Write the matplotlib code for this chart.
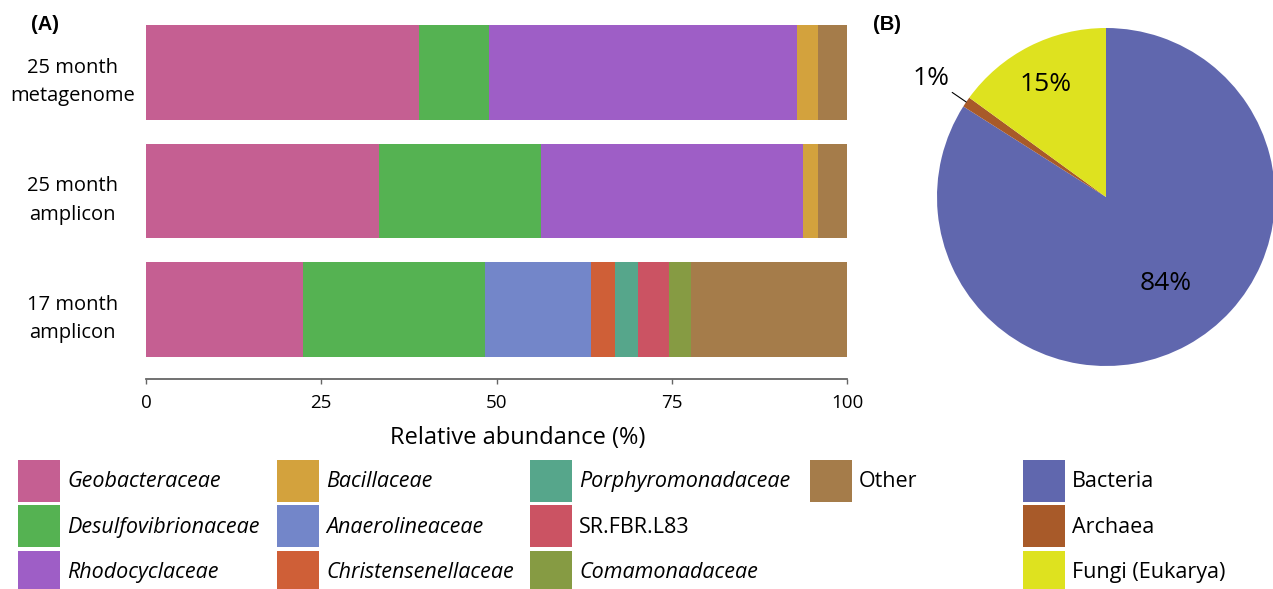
"""
Stacked family abundance bars (A) and kingdom pie (B).
"""
import numpy as np
import matplotlib
matplotlib.use('Agg')
import matplotlib.pyplot as plt
from matplotlib.transforms import ScaledTranslation

FONT = 'Open Sans'
plt.rcParams['font.family'] = [FONT, 'DejaVu Sans']

# Panel A data: relative abundance (%) of each family per sample
samples = ['25 month\nmetagenome', '25 month\namplicon', '17 month\namplicon']
families = ['Geobacteraceae', 'Desulfovibrionaceae', 'Rhodocyclaceae',
            'Bacillaceae', 'Anaerolineaceae', 'Christensenellaceae',
            'Porphyromonadaceae', 'SR.FBR.L83', 'Comamonadaceae', 'Other']
metagenome_25 = [38.9, 10.0, 44.0, 3.0, 0.0, 0.0, 0.0, 0.0, 0.0, 4.1]
amplicon_25 = [33.2, 23.1, 37.4, 2.2, 0.0, 0.0, 0.0, 0.0, 0.0, 4.1]
amplicon_17 = [22.4, 26.0, 0.0, 0.0, 15.1, 3.4, 3.3, 4.4, 3.1, 22.3]
family_colors = ['#C55F92', '#55B252', '#9E5EC6', '#D3A23D', '#7386C9',
                 '#CF5F37', '#56A68B', '#CB5363', '#869B43', '#A57C4A']
upright = ['SR.FBR.L83', 'Other']
xticks = [0, 25, 50, 75, 100]

# Panel B data: kingdom share (%)
kingdoms = ['Bacteria', 'Archaea', 'Fungi (Eukarya)']
kingdom_pct = [84, 1, 15]
kingdom_colors = ['#6067AE', '#A85A29', '#DEE21F']


fig = plt.figure(figsize=(12.73, 5.89), dpi=100)
W, H = 1273, 589


def px_axes(left, top, right, bottom):
    """Axes from pixel box."""
    return fig.add_axes([left / W, 1 - bottom / H, (right - left) / W, (bottom - top) / H])


# ---- (A) stacked bars
ax = px_axes(146, 25, 847, 379)
data = np.array([metagenome_25, amplicon_25, amplicon_17])
ypos = np.arange(len(samples))[::-1]
left = np.zeros(len(samples))
handles = []
for i, fam in enumerate(families):
    bars = ax.barh(ypos, data[:, i], left=left, height=0.8,
                   color=family_colors[i], linewidth=0, label=fam)
    handles.append(bars)
    left += data[:, i]

ax.set_xlim(0, 100)
ax.set_ylim(-0.586, 2.4)
ax.set_xticks(xticks)
ax.set_xticklabels([str(t) for t in xticks], fontsize=13.5)
ax.set_yticks(ypos)
ax.set_yticklabels(samples, fontsize=14.5, ha='center', multialignment='center',
                   linespacing=1.55)
ax.tick_params(axis='y', length=0, pad=53)
ax.tick_params(axis='x', length=3.5, width=1, color='#666666', pad=7)
shift = ScaledTranslation(0, -2 / 72, fig.dpi_scale_trans)
for lab in ax.get_yticklabels():
    lab.set_transform(lab.get_transform() + shift)
for side in ['top', 'right', 'left']:
    ax.spines[side].set_visible(False)
ax.spines['bottom'].set_color('#666666')
ax.spines['bottom'].set_linewidth(1.3)
ax.set_xlabel('Relative abundance (%)', fontsize=17, labelpad=10.5)
ax.xaxis.label.set_x(0.53)

fig.text(31 / W, 1 - 25 / H, '(A)', fontsize=14.5, fontweight='bold',
         family='Liberation Sans', va='center', ha='left')

# ---- (B) pie
pax = px_axes(937, 28, 1275, 366)
wedges, _ = pax.pie(kingdom_pct, colors=kingdom_colors, startangle=90,
                    counterclock=False, wedgeprops=dict(linewidth=0))
pax.set_xlim(-1, 1)
pax.set_ylim(-1, 1)
pax.set_aspect('equal')

label_pos = [(0.355, -0.509), (-1.036, 0.704), (-0.355, 0.663)]
for w, pct, pos in zip(wedges, kingdom_pct, label_pos):
    text = f'{pct}%'
    if pct < 5:
        mid = np.deg2rad((w.theta1 + w.theta2) / 2)
        pax.annotate(text, xy=(np.cos(mid), np.sin(mid)), xytext=pos,
                     fontsize=19, ha='center', va='center',
                     arrowprops=dict(arrowstyle='-', lw=0.8, color='black',
                                     relpos=(1, 0), shrinkA=0, shrinkB=0))
    else:
        pax.text(pos[0], pos[1], text, fontsize=19, ha='center', va='center')

fig.text(873 / W, 1 - 25 / H, '(B)', fontsize=14.5, fontweight='bold',
         family='Liberation Sans', va='center', ha='left')

# ---- legends
fs = 15.5
fs_px = fs * 100 / 72
hh = (42 / fs_px - 0.245) / 0.65
leg_kw = dict(loc='upper left', frameon=False, fontsize=fs, borderpad=0,
              borderaxespad=0, handlelength=42 / fs_px, handleheight=hh,
              handletextpad=7 / fs_px, labelspacing=3.3 / fs_px)

columns = [(18, [0, 1, 2]), (277, [3, 4, 5]), (530, [6, 7, 8]), (810, [9])]
for x0, idx in columns:
    leg = fig.legend([handles[i] for i in idx], [families[i] for i in idx],
                     bbox_to_anchor=(x0 / W, 1 - 460 / H), **leg_kw)
    for t in leg.get_texts():
        if t.get_text() not in upright:
            t.set_style('italic')

fig.legend(wedges, kingdoms, bbox_to_anchor=(1023 / W, 1 - 460 / H), **leg_kw)

fig.savefig('out.png', dpi=100)
